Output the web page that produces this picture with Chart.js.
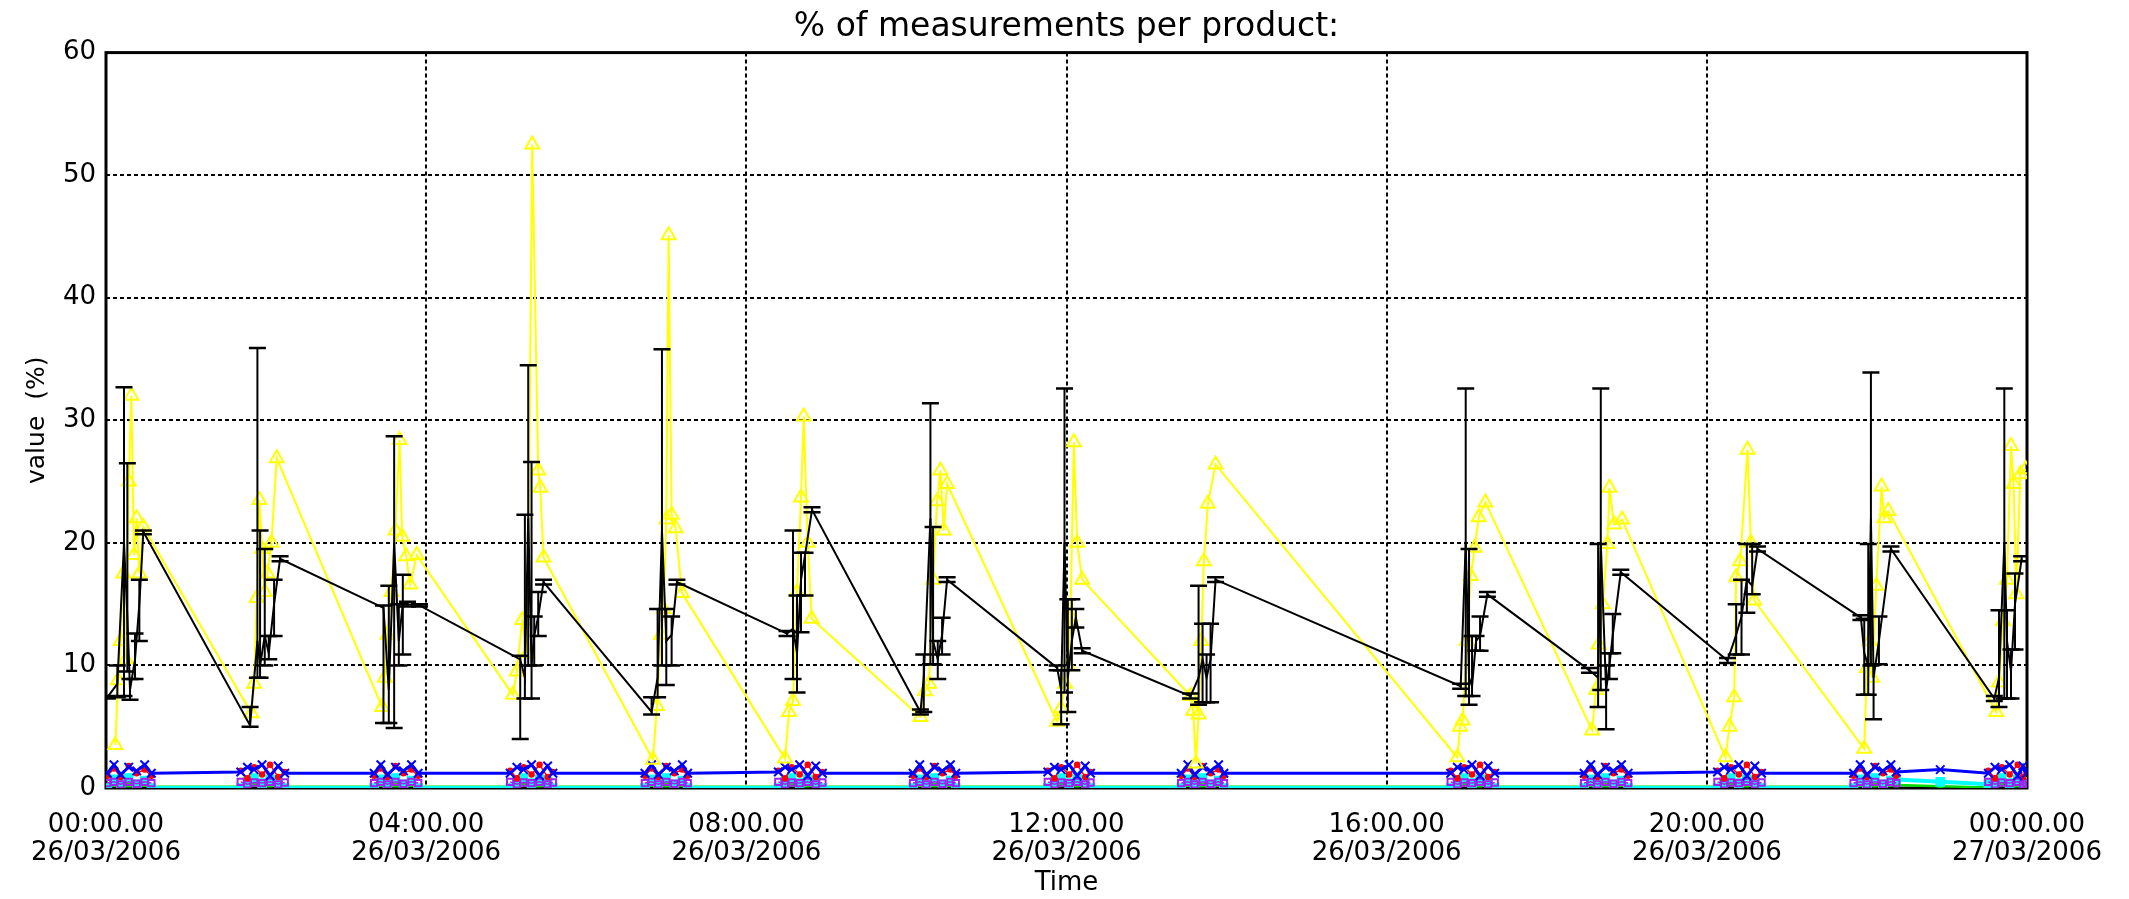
<!DOCTYPE html>
<html>
<head>
<meta charset="utf-8">
<script src="https://cdn.jsdelivr.net/npm/chart.js@4.4.1/dist/chart.umd.min.js"></script>
<style>
html,body{margin:0;padding:0;background:#ffffff;overflow:hidden;}
canvas{display:block;}
</style>
</head>
<body>
<canvas id="chart" width="2129" height="899"></canvas>
<script>
// ---------------- DATA (time in minutes after 00:00 26/03/2006) ----------------
const chartTitle = "% of measurements per product:";
const yAxisTitle = "value  (%)";
const xAxisTitle = "Time";
const tickTimes = ["00:00.00","04:00.00","08:00.00","12:00.00","16:00.00","20:00.00","00:00.00"];
const tickDates = ["26/03/2006","26/03/2006","26/03/2006","26/03/2006","26/03/2006","26/03/2006","27/03/2006"];
const yTicks = [0,10,20,30,40,50,60];

// Yellow product: individual measurements
const yellowTimes = [
  7,9,11,13,15,17,19,21,23,25,28,
  109,111,113,115,117,119,121,124,128,
  207,209,211,214,217,220,222,225,228,233,
  305,308,312,316,319.5,324,325.5,328,
  410,413,416,418,420,421.75,424,427,431.75,
  509,512,515,518,521,523,526,529,
  610.5,614,617,620,623,625.5,628,630.5,
  713,716,719,721,723,725.5,728,731.75,
  813,815,817,819,821,823,826,831.75,
  1013,1015,1017,1020,1023,1026,1029,1034,
  1114,1117,1119,1122,1125.5,1127,1130.5,1136.5,
  1214,1217,1220.5,1222,1225,1230.5,1233,1235.5,
  1318,1320,1322,1324,1327,1331,1333,1336,
  1417,1419,1422,1425,1428,1430,1432,1435,1439
];
const yellowValues = [
  3.5,8.8,12.0,17.5,10.5,25.0,32.0,19.0,22.0,17.5,21.3,
  6.1,8.5,15.5,23.5,19.5,16.0,17.5,20.0,26.9,
  6.6,9.0,12.5,16.0,21.0,28.4,20.5,18.9,16.6,19.0,
  7.6,9.5,13.7,11.0,52.5,25.9,24.5,18.8,
  2.3,6.7,12.5,14.6,21.9,45.1,22.3,21.2,15.9,
  2.4,6.2,7.1,16.0,23.7,30.3,20.0,13.8,
  5.8,7.9,8.5,17.0,23.4,25.9,21.0,24.8,
  5.4,6.5,8.5,10.0,14.0,28.2,20.0,17.0,
  7.5,6.3,2.0,6.0,12.0,18.5,23.2,26.4,
  2.5,5.0,5.5,12.0,17.3,19.6,22.1,23.3,
  4.7,8.0,11.7,15.0,19.9,24.5,21.5,21.9,
  2.5,5.0,7.4,17.2,18.5,27.6,20.0,15.3,
  3.2,9.8,12.0,9.0,16.5,24.6,22.0,22.6,
  6.2,8.6,13.6,17.0,27.9,24.8,15.8,25.6,26.0
];

// Black product: mean with low / high error bars
const meanTimes = [
  1,8.5,13.5,16,18,21.75,25,28,
  108,113.5,115.5,119,122,126,130.5,
  208,212,216,219.5,222.5,226,235,
  310.5,314,316.5,319,321,324,328,
  409,413.5,416.75,420,424,428,
  510.5,515,518,521,524,529.25,
  610.5,613,618,620,623.5,626.75,630.5,
  713,716,718.5,721,724,727,731.75,
  813,819,822,825,828,831.75,
  1015.5,1019.25,1021.75,1024,1027,1030,1035.5,
  1112,1118.5,1120.5,1124.5,1127,1129.5,1135.5,
  1215.5,1222,1226,1230,1234,1238,
  1315.5,1318,1321,1323,1325,1329,1338,
  1415.5,1419,1423,1425,1428,1431,1436
];
const meanValues = [
  7.4,8.5,20.0,14.0,8.0,10.5,15.0,20.9,
  5.1,12.0,10.0,12.4,11.0,15.0,18.7,
  14.7,8.0,20.0,12.0,15.0,15.0,14.9,
  10.5,9.0,22.0,10.0,12.4,14.0,16.8,
  6.2,9.0,21.0,12.0,12.5,16.8,
  12.6,13.0,11.0,17.0,19.0,22.7,
  6.2,9.0,22.0,12.0,10.5,12.5,17.0,
  9.8,8.0,20.0,9.0,12.0,13.9,11.2,
  7.5,9.0,10.5,9.0,10.5,17.0,
  8.3,20.0,9.0,8.3,12.0,12.4,15.8,
  9.6,9.0,20.0,8.0,10.0,12.5,17.6,
  10.4,12.5,14.0,17.0,16.5,19.5,
  13.9,11.0,10.0,22.0,9.0,12.0,19.5,
  7.3,9.0,20.0,12.0,9.5,15.0,18.7
];
const lowValues = [
  7.3,7.4,7.5,9.5,7.2,8.9,12.0,20.7,
  5.0,9.0,9.0,10.0,10.5,12.4,18.5,
  5.3,5.3,4.9,10.0,10.9,14.8,14.8,
  4.0,7.3,10.0,7.3,10.0,12.4,16.6,
  6.0,7.4,10.0,8.4,10.0,16.6,
  12.4,8.9,7.8,12.7,15.7,22.5,
  6.0,6.2,10.1,10.1,8.9,10.9,16.8,
  9.6,5.2,7.8,6.2,9.6,13.1,11.0,
  7.3,6.8,7.0,7.0,7.0,16.8,
  8.1,7.5,6.8,7.5,11.2,11.2,15.6,
  9.4,6.6,8.0,4.8,8.9,11.0,17.4,
  10.2,10.9,10.9,14.3,15.8,19.3,
  13.7,7.6,7.6,10.0,5.6,10.1,19.3,
  7.1,6.6,7.3,7.3,7.3,11.3,18.5
];
const highValues = [
  7.5,10.0,32.7,26.5,8.9,12.6,17.0,21.0,
  6.6,35.9,21.0,19.5,12.4,17.0,18.9,
  14.9,16.5,28.7,15.0,17.4,15.2,15.0,
  10.8,22.3,34.5,26.6,14.0,16.0,17.0,
  7.4,14.6,35.8,14.6,14.0,17.0,
  12.8,21.0,15.7,19.2,19.2,22.9,
  6.4,10.9,31.4,21.3,12.0,13.9,17.2,
  10.0,9.6,32.6,15.4,15.4,14.6,11.4,
  7.7,16.5,13.4,10.9,13.4,17.2,
  8.5,32.6,19.5,12.4,12.4,14.0,16.0,
  9.8,19.9,32.6,10.0,11.0,14.2,17.8,
  10.6,15.0,17.0,19.9,19.9,19.7,
  14.1,13.8,19.9,33.9,10.1,14.0,19.7,
  7.5,14.5,32.6,14.5,11.3,17.5,18.9
];

// Low-level products near 0 %
const bottomTimes = [
  1,6,11,17,23,29,34,
  101,106,111,117,123,129,134,
  201,206,211,217,223,229,234,
  303,308,313,319,325,331,335,
  404,409,414,420,426,432,436,
  504,509,514,520,526,532,537,
  605,610,615,621,627,633,637,
  706,711,716,722,728,734,738,
  806,811,816,822,828,834,838,
  1008,1013,1018,1024,1030,1036,1041,
  1108,1113,1118,1124,1130,1136,1141,
  1208,1213,1218,1224,1230,1236,1241,
  1310,1315,1320,1326,1332,1338,1342,
  1375,
  1411,1416,1421,1427,1433,1437,1439.5
];
const blueValues = [
  1.2,1.9,1.1,1.7,1.4,1.9,1.2,
  1.3,1.7,1.5,1.9,1.0,1.8,1.2,
  1.2,1.9,1.1,1.7,1.4,1.9,1.2,
  1.2,1.7,1.5,1.9,1.0,1.8,1.2,
  1.2,1.9,1.1,1.7,1.4,1.9,1.2,
  1.3,1.7,1.5,1.9,1.0,1.8,1.2,
  1.2,1.9,1.1,1.7,1.4,1.9,1.2,
  1.3,1.7,1.5,1.9,1.0,1.8,1.2,
  1.2,1.9,1.1,1.7,1.4,1.9,1.2,
  1.2,1.7,1.5,1.9,1.0,1.8,1.2,
  1.2,1.9,1.1,1.7,1.4,1.9,1.2,
  1.3,1.7,1.5,1.9,1.0,1.8,1.2,
  1.2,1.9,1.1,1.7,1.4,1.9,1.3,
  1.5,
  1.2,1.7,1.5,1.9,1.0,1.8,1.2
];
const redValues = [
  1.0,1.6,0.9,1.8,1.2,1.5,1.0,
  1.4,0.8,1.7,1.1,1.9,0.9,1.3,
  1.0,1.6,0.9,1.8,1.2,1.5,1.0,
  1.4,0.8,1.7,1.1,1.9,0.9,1.3,
  1.0,1.6,0.9,1.8,1.2,1.5,1.0,
  1.4,0.8,1.7,1.1,1.9,0.9,1.3,
  1.0,1.6,0.9,1.8,1.2,1.5,1.0,
  1.4,0.8,1.7,1.1,1.9,0.9,1.3,
  1.0,1.6,0.9,1.8,1.2,1.5,1.0,
  1.4,0.8,1.7,1.1,1.9,0.9,1.3,
  1.0,1.6,0.9,1.8,1.2,1.5,1.0,
  1.4,0.8,1.7,1.1,1.9,0.9,1.3,
  1.0,1.6,0.9,1.8,1.2,1.5,1.0,
  null,
  1.4,0.8,1.7,1.1,1.9,0.9,1.3
];
const purpleValues = [
  0.4,0.5,0.3,0.5,0.35,0.5,0.4,
  0.5,0.3,0.45,0.4,0.5,0.3,0.45,
  0.4,0.5,0.3,0.5,0.35,0.5,0.4,
  0.5,0.3,0.45,0.4,0.5,0.3,0.45,
  0.4,0.5,0.3,0.5,0.35,0.5,0.4,
  0.5,0.3,0.45,0.4,0.5,0.3,0.45,
  0.4,0.5,0.3,0.5,0.35,0.5,0.4,
  0.5,0.3,0.45,0.4,0.5,0.3,0.45,
  0.4,0.5,0.3,0.5,0.35,0.5,0.4,
  0.5,0.3,0.45,0.4,0.5,0.3,0.45,
  0.4,0.5,0.3,0.5,0.35,0.5,0.4,
  0.5,0.3,0.45,0.4,0.5,0.3,0.45,
  0.4,0.5,0.3,0.5,0.35,0.5,0.4,
  null,
  0.5,0.3,0.45,0.4,0.5,0.3,0.45
];
const cyanValues = [
  0.0,0.7,0.4,0.8,0.3,0.6,0.0,
  0.0,0.5,0.8,0.4,0.7,0.5,0.0,
  0.0,0.7,0.4,0.8,0.3,0.6,0.0,
  0.0,0.5,0.8,0.4,0.7,0.5,0.0,
  0.0,0.7,0.4,0.8,0.3,0.6,0.0,
  0.0,0.5,0.8,0.4,0.7,0.5,0.0,
  0.0,0.7,0.4,0.8,0.3,0.6,0.0,
  0.0,0.5,0.8,0.4,0.7,0.5,0.0,
  0.0,0.7,0.4,0.8,0.3,0.6,0.0,
  0.0,0.5,0.8,0.4,0.7,0.5,0.0,
  0.0,0.7,0.4,0.8,0.3,0.6,0.0,
  0.0,0.5,0.8,0.4,0.7,0.5,0.0,
  0.0,0.7,0.4,0.8,0.3,0.6,0.7,
  0.5,
  0.3,0.5,0.8,0.4,0.7,0.5,0.0
];
const greenValues = [
  0.1,0.3,0.15,0.25,0.1,0.3,0.1,
  0.1,0.2,0.3,0.1,0.25,0.15,0.1,
  0.1,0.3,0.15,0.25,0.1,0.3,0.1,
  0.1,0.2,0.3,0.1,0.25,0.15,0.1,
  0.1,0.3,0.15,0.25,0.1,0.3,0.1,
  0.1,0.2,0.3,0.1,0.25,0.15,0.1,
  0.1,0.3,0.15,0.25,0.1,0.3,0.1,
  0.1,0.2,0.3,0.1,0.25,0.15,0.1,
  0.1,0.3,0.15,0.25,0.1,0.3,0.1,
  0.1,0.2,0.3,0.1,0.25,0.15,0.1,
  0.1,0.3,0.15,0.25,0.1,0.3,0.1,
  0.1,0.2,0.3,0.1,0.25,0.15,0.1,
  0.1,0.3,0.15,0.25,0.1,0.3,0.25,
  0.15,
  0.05,0.2,0.3,0.1,0.25,0.15,0.1
];

// ---------------- BUILD ----------------
const FONT = "'DejaVu Sans', 'Liberation Sans', sans-serif";
const xy = (ts, vs) => ts.map((t, i) => ({x: t, y: vs[i]}));
function gapped(ts, vs, maxGap) {
  const out = [];
  for (let i = 0; i < ts.length; i++) {
    if (i > 0 && ts[i] - ts[i - 1] > maxGap) out.push({x: (ts[i] + ts[i - 1]) / 2, y: null});
    out.push({x: ts[i], y: vs[i]});
  }
  return out;
}
const whiskerPts = meanTimes.flatMap((t, i) => [{x: t, y: lowValues[i]}, {x: t, y: highValues[i]}, {x: t, y: null}]);
const capPts = meanTimes.flatMap((t, i) => [{x: t, y: lowValues[i]}, {x: t, y: highValues[i]}]);

const framePlugin = {
  id: 'frame',
  beforeDatasetsDraw(chart) {
    const {ctx, chartArea: a} = chart;
    ctx.save();
    ctx.strokeStyle = '#000';
    ctx.lineWidth = 3;
    ctx.setLineDash([]);
    ctx.strokeRect(a.left, a.top, a.right - a.left, a.bottom - a.top);
    ctx.restore();
  }
};

const none = 'rgba(0,0,0,0)';
new Chart(document.getElementById('chart'), {
  type: 'line',
  data: {
    datasets: [
      { label: 'caps', data: capPts, showLine: false, pointStyle: 'line', pointRadius: 8.5,
        pointBorderWidth: 2.5, pointBorderColor: '#000', borderColor: '#000' },
      { label: 'whiskers', data: whiskerPts, spanGaps: false, borderColor: '#000', borderWidth: 2, pointRadius: 0 },
      { label: 'mean', data: xy(meanTimes, meanValues), borderColor: '#000', borderWidth: 2, pointRadius: 0 },
      { label: 'yellow', data: xy(yellowTimes, yellowValues), borderColor: '#ffff00', borderWidth: 2,
        pointStyle: 'triangle', pointRadius: 8, pointBorderWidth: 2, pointBorderColor: '#ffff00', pointBackgroundColor: none },
      { label: 'blue', data: xy(bottomTimes, blueValues), borderColor: '#0000ff', borderWidth: 3,
        pointStyle: 'crossRot', pointRadius: 6, pointBorderWidth: 2, pointBorderColor: '#0000ff' },
      { label: 'red', data: gapped(bottomTimes, redValues, 25), spanGaps: false, borderColor: '#ff0000', borderWidth: 1.5,
        pointStyle: 'circle', pointRadius: 2.5, pointBackgroundColor: '#ff0000', pointBorderColor: '#ff0000' },
      { label: 'purple', data: gapped(bottomTimes, purpleValues, 25), spanGaps: false, borderColor: '#a020f0', borderWidth: 1.5,
        pointStyle: 'rect', pointRadius: 4.5, pointBorderWidth: 2, pointBorderColor: '#a020f0', pointBackgroundColor: none },
      { label: 'cyan', data: xy(bottomTimes, cyanValues), borderColor: '#00ffff', borderWidth: 4,
        pointStyle: 'rect', pointRadius: 4, pointBackgroundColor: '#00ffff', pointBorderColor: '#00ffff' },
      { label: 'green', data: xy(bottomTimes, greenValues), borderColor: '#00dd00', borderWidth: 2.5,
        pointStyle: 'rect', pointRadius: 2, pointBackgroundColor: '#00dd00', pointBorderColor: '#00dd00' }
    ]
  },
  options: {
    responsive: false,
    devicePixelRatio: 1,
    animation: false,
    events: [],
    layout: { padding: { left: 0, right: 102, top: 0, bottom: 0 } },
    elements: { line: { tension: 0 } },
    plugins: {
      legend: { display: false },
      tooltip: { enabled: false },
      title: { display: true, fullSize: false, text: chartTitle, color: '#000',
        font: { family: FONT, size: 33, weight: 'normal', lineHeight: 1.2 },
        padding: { top: 8, bottom: 5 } }
    },
    scales: {
      x: {
        type: 'linear', min: 0, max: 1440,
        afterFit(scale) { scale.height = 111; },
        afterBuildTicks(scale) { scale.ticks = tickTimes.map((_, i) => ({ value: i * 240 })); },
        ticks: {
          autoSkip: false, maxRotation: 0, minRotation: 0, padding: 24, color: '#000',
          font: { family: FONT, size: 26, lineHeight: 1.05 },
          callback: (v) => { const i = Math.round(v / 240); return [tickTimes[i], tickDates[i]]; }
        },
        grid: { drawTicks: false, lineWidth: 2, borderDash: [4, 3],
          color: (c) => (c.tick && (c.tick.value === 0 || c.tick.value === 1440)) ? none : '#000' },
        border: { display: false, dash: [4, 3] },
        title: { display: true, text: xAxisTitle, color: '#000', font: { family: FONT, size: 26, lineHeight: 1.2 },
          padding: { top: 0, bottom: 0 } }
      },
      y: {
        type: 'linear', min: 0, max: 60,
        afterFit(scale) { scale.width = 106; },
        afterBuildTicks(scale) { scale.ticks = yTicks.map(v => ({ value: v })); },
        ticks: { padding: 10, color: '#000', font: { family: FONT, size: 26 } },
        grid: { drawTicks: false, lineWidth: 2, borderDash: [4, 3],
          color: (c) => (c.tick && (c.tick.value === 0 || c.tick.value === 60)) ? none : '#000' },
        border: { display: false, dash: [4, 3] },
        title: { display: true, text: yAxisTitle, color: '#000', font: { family: FONT, size: 25, lineHeight: 1.2 },
          padding: { top: 22, bottom: 0 } }
      }
    }
  },
  plugins: [framePlugin]
});
</script>
</body>
</html>
